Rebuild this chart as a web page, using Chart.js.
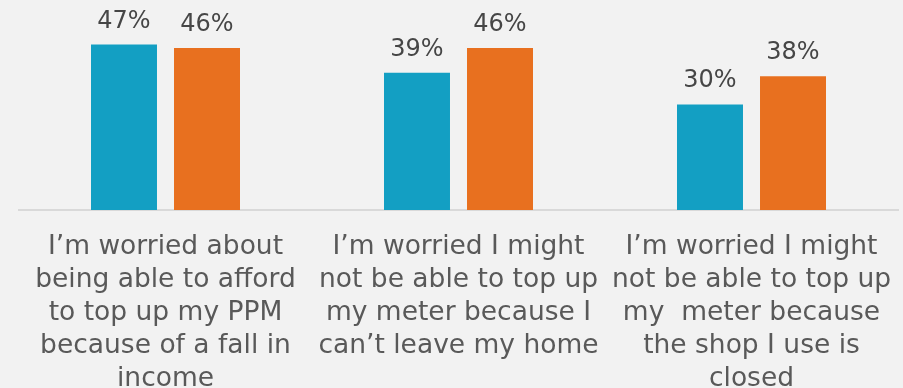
<!DOCTYPE html>
<html>
<head>
<meta charset="utf-8">
<script src="https://cdn.jsdelivr.net/npm/chart.js@4.4.1/dist/chart.umd.min.js"></script>
<style>
  html, body { margin: 0; padding: 0; background: #f2f2f2; }
  #wrap { width: 903px; height: 388px; }
</style>
</head>
<body>
<div id="wrap"><canvas id="c" width="903" height="388"></canvas></div>
<script>
// Survey statements (each line of a label is drawn on its own row)
const categories = [
  ["I’m worried about", "being able to afford", "to top up my PPM", "because of a fall in", "income"],
  ["I’m worried I might", "not be able to top up", "my meter because I", "can’t leave my home"],
  ["I’m worried I might", "not be able to top up", "my  meter because", "the shop I use is", "closed"]
];
// Share of respondents agreeing (%)
const seriesA = [47, 39, 30];
const seriesB = [46, 46, 38];

const FONT = "'DejaVu Sans', Verdana, sans-serif";
const TEXT = "#595959";

// Percent labels above each bar
const valueLabels = {
  id: 'valueLabels',
  afterDatasetsDraw(chart) {
    const ctx = chart.ctx;
    ctx.save();
    ctx.font = "24px " + FONT;
    ctx.fillStyle = '#464646';
    ctx.textAlign = 'center';
    ctx.textBaseline = 'alphabetic';
    chart.data.datasets.forEach((ds, i) => {
      chart.getDatasetMeta(i).data.forEach((bar, j) => {
        ctx.fillText(ds.data[j] + '%', bar.x, bar.y - 17);
      });
    });
    ctx.restore();
  }
};

// Plain light-grey page background
const background = {
  id: 'background',
  beforeDraw(chart) {
    const ctx = chart.ctx;
    ctx.save();
    ctx.fillStyle = '#f2f2f2';
    ctx.fillRect(0, 0, chart.width, chart.height);
    ctx.restore();
  }
};

new Chart(document.getElementById('c'), {
  type: 'bar',
  data: {
    labels: categories,
    datasets: [
      { data: seriesA, backgroundColor: '#139fc3', categoryPercentage: 0.5666, barPercentage: 0.795 },
      { data: seriesB, backgroundColor: '#e8701f', categoryPercentage: 0.5666, barPercentage: 0.795 }
    ]
  },
  options: {
    responsive: false,
    animation: false,
    layout: { padding: { left: 19, right: 5, top: 34, bottom: 0 } },
    plugins: { legend: { display: false }, tooltip: { enabled: false } },
    scales: {
      x: {
        grid: { display: false, drawTicks: false },
        border: { display: true, color: '#d9d9d9', width: 2 },
        ticks: {
          color: TEXT,
          font: { family: FONT, size: 26.5, lineHeight: 1.24 },
          padding: 21,
          maxRotation: 0,
          autoSkip: false
        },
        afterFit(scale) {
          // labels sit well inside the canvas, so no extra side padding
          scale.height = 178;
          scale.paddingLeft = 0;
          scale.paddingRight = 0;
        }
      },
      y: {
        display: false,
        min: 0,
        max: 50
      }
    }
  },
  plugins: [background, valueLabels]
});
</script>
</body>
</html>
